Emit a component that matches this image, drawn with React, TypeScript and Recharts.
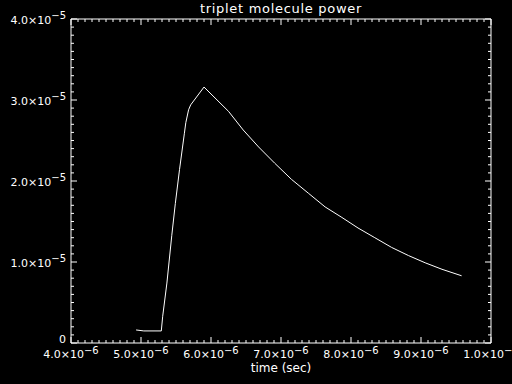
import { LineChart, Line, XAxis, YAxis } from 'recharts';

// time (sec) and triplet molecule power
const timeSec = [
  4.93e-6, 5.04e-6, 5.29e-6, 5.31e-6, 5.37e-6, 5.44e-6, 5.49e-6, 5.55e-6,
  5.62e-6, 5.64e-6, 5.68e-6, 5.71e-6, 5.9e-6, 6.25e-6, 6.46e-6, 6.68e-6,
  6.91e-6, 7.15e-6, 7.39e-6, 7.63e-6, 7.87e-6, 8.1e-6, 8.34e-6, 8.58e-6,
  8.82e-6, 9.06e-6, 9.3e-6, 9.58e-6,
];
const power = [
  1.61e-6, 1.49e-6, 1.49e-6, 3.3e-6, 7.4e-6, 1.33e-5, 1.72e-5, 2.14e-5,
  2.59e-5, 2.72e-5, 2.88e-5, 2.94e-5, 3.16e-5, 2.86e-5, 2.63e-5, 2.42e-5,
  2.22e-5, 2.02e-5, 1.85e-5, 1.68e-5, 1.55e-5, 1.42e-5, 1.3e-5, 1.18e-5,
  1.08e-5, 9.9e-6, 9.1e-6, 8.3e-6,
];

const xMajorTicks = [4e-6, 5e-6, 6e-6, 7e-6, 8e-6, 9e-6, 1e-5];
const xMantissas = ['4.0', '5.0', '6.0', '7.0', '8.0', '9.0', '1.0'];
const xExponents = ['\u22126', '\u22126', '\u22126', '\u22126', '\u22126', '\u22126', '\u22125'];

const yMajorTicks = [0, 1e-5, 2e-5, 3e-5, 4e-5];
const yMantissas = ['0', '1.0', '2.0', '3.0', '4.0'];
const yExponents = ['', '\u22125', '\u22125', '\u22125', '\u22125'];

const data = timeSec.map((t, i) => ({ t, v: power[i] }));

// minor ticks: 10 per major interval
const xTicks = Array.from({ length: 61 }, (_, k) => (40 + k) / 1e7);
const yTicks = Array.from({ length: 41 }, (_, k) => k / 1e6);

const FONT = 'DejaVu Sans';
const MAJOR = 6;
const MINOR = 3;

const findMajor = (ticks: number[], v: number) =>
  ticks.findIndex((m) => Math.abs(m - v) < 1e-9);

const BottomTick = (props: any) => {
  const { x, y, payload } = props;
  const idx = findMajor(xMajorTicks, payload.value);
  const len = idx >= 0 ? MAJOR : MINOR;
  return (
    <g>
      <line x1={x} x2={x} y1={y} y2={y - len} stroke="#fff" />
      {idx >= 0 && (
        <text x={x} y={y + 15} fill="#fff" fontFamily={FONT} fontSize={11} textAnchor="middle">
          <tspan>{xMantissas[idx]}×10</tspan>
          <tspan dy={-4.5} fontSize={10}>{xExponents[idx]}</tspan>
        </text>
      )}
    </g>
  );
};

const TopTick = (props: any) => {
  const { x, y, payload } = props;
  const len = findMajor(xMajorTicks, payload.value) >= 0 ? MAJOR : MINOR;
  return <line x1={x} x2={x} y1={y} y2={y + len} stroke="#fff" />;
};

const LeftTick = (props: any) => {
  const { x, y, payload } = props;
  const idx = findMajor(yMajorTicks, payload.value);
  const len = idx >= 0 ? MAJOR : MINOR;
  return (
    <g>
      <line x1={x} x2={x + len} y1={y} y2={y} stroke="#fff" />
      {idx >= 0 && (
        <text x={x - 5} y={idx === 0 ? y : y + 5} fill="#fff" fontFamily={FONT} fontSize={11} textAnchor="end">
          <tspan>{yExponents[idx] ? `${yMantissas[idx]}×10` : yMantissas[idx]}</tspan>
          {yExponents[idx] && (
            <tspan dy={-5} fontSize={10}>{yExponents[idx]}</tspan>
          )}
        </text>
      )}
    </g>
  );
};

const RightTick = (props: any) => {
  const { x, y, payload } = props;
  const len = findMajor(yMajorTicks, payload.value) >= 0 ? MAJOR : MINOR;
  return <line x1={x} x2={x - len} y1={y} y2={y} stroke="#fff" />;
};

export default function App() {
  return (
    <div style={{ position: 'fixed', left: 0, top: 0, width: 512, height: 384, background: '#000' }}>
      <LineChart width={512} height={384} data={data} margin={{ top: 0, right: 0, bottom: 0, left: 0 }}>
        <XAxis
          xAxisId="bottom"
          dataKey="t"
          type="number"
          orientation="bottom"
          domain={[4e-6, 1e-5]}
          ticks={xTicks}
          interval={0}
          height={41}
          tickSize={0}
          tickMargin={0}
          tickLine={false}
          axisLine={{ stroke: '#fff' }}
          tick={BottomTick}
          allowDataOverflow
        />
        <XAxis
          xAxisId="top"
          dataKey="t"
          type="number"
          orientation="top"
          domain={[4e-6, 1e-5]}
          ticks={xTicks}
          interval={0}
          height={19}
          tickSize={0}
          tickMargin={0}
          tickLine={false}
          axisLine={{ stroke: '#fff' }}
          tick={TopTick}
          allowDataOverflow
        />
        <YAxis
          yAxisId="left"
          type="number"
          orientation="left"
          domain={[0, 4e-5]}
          ticks={yTicks}
          interval={0}
          width={71}
          tickSize={0}
          tickMargin={0}
          tickLine={false}
          axisLine={{ stroke: '#fff' }}
          tick={LeftTick}
          allowDataOverflow
        />
        <YAxis
          yAxisId="right"
          type="number"
          orientation="right"
          domain={[0, 4e-5]}
          ticks={yTicks}
          interval={0}
          width={21}
          tickSize={0}
          tickMargin={0}
          tickLine={false}
          axisLine={{ stroke: '#fff' }}
          tick={RightTick}
          allowDataOverflow
        />
        <Line
          xAxisId="bottom"
          yAxisId="left"
          dataKey="v"
          type="linear"
          stroke="#fff"
          strokeWidth={1}
          dot={false}
          isAnimationActive={false}
        />
        <text x={281} y={13} fill="#fff" fontFamily={FONT} fontSize={13} letterSpacing={0.7} textAnchor="middle">
          triplet molecule power
        </text>
        <text x={281} y={372} fill="#fff" fontFamily={FONT} fontSize={12} textAnchor="middle">
          time (sec)
        </text>
      </LineChart>
    </div>
  );
}
